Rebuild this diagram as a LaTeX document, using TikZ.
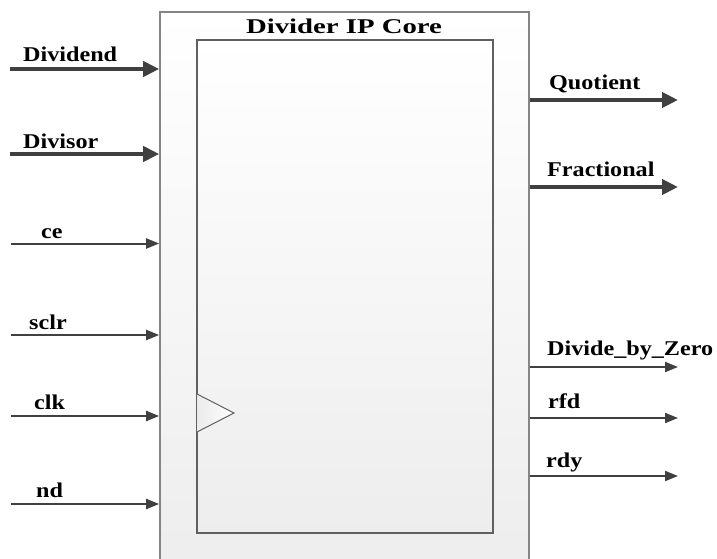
\documentclass[tikz,border=0pt]{standalone}
\usepackage{fontspec}
\setmainfont{Liberation Serif}[FakeStretch=1.15]
\usetikzlibrary{arrows.meta}
\definecolor{arr}{HTML}{404040}
\definecolor{outerline}{HTML}{858585}
\definecolor{innerline}{HTML}{606060}
\tikzset{
  lbl/.style={anchor=base west, inner sep=0pt, font=\fontsize{21}{24}\selectfont\bfseries, text=black},
  busarr/.style={draw=arr, line width=4pt, -{Triangle[length=16pt,width=15pt]}},
  sigarr/.style={draw=arr, line width=2pt, -{Triangle[length=13pt,width=10pt]}},
  outerbox/.style={draw=outerline, line width=1.6pt, top color=white, bottom color=black!7, minimum width=369pt, minimum height=563pt, inner sep=0pt},
  innerbox/.style={draw=innerline, line width=1.2pt, top color=white, bottom color=black!7, minimum width=296pt, minimum height=493pt, inner sep=0pt},
}
\begin{document}
\begin{tikzpicture}[x=1pt,y=-1pt]
\useasboundingbox (0,0) rectangle (717,559);
\clip (0,0) rectangle (717,559);
\node[outerbox] (core) at (344.5,293.5) {};
\node[innerbox] (inner) at (345,286.5) {};
\node[lbl, anchor=base, xscale=1.19] (title) at (344,34) {Divider IP Core};
% clock triangle
\draw[draw=innerline, line width=1pt, left color=black!8, right color=white] (197,394) -- (234,413) -- (197,432);
% inputs
\coordinate (inDvd) at (10,69);
\coordinate (inDvs) at (10,154);
\coordinate (inCe) at (11,243.5);
\coordinate (inSclr) at (11,335);
\coordinate (inClk) at (11,416);
\coordinate (inNd) at (11,504);
\draw[busarr] (inDvd) -- (inDvd -| core.west);
\draw[busarr] (inDvs) -- (inDvs -| core.west);
\draw[sigarr] (inCe) -- (inCe -| core.west);
\draw[sigarr] (inSclr) -- (inSclr -| core.west);
\draw[sigarr] (inClk) -- (inClk -| core.west);
\draw[sigarr] (inNd) -- (inNd -| core.west);
\node[lbl] (lDvd) at (23,62) {Dividend};
\node[lbl] (lDvs) at (23,148) {Divisor};
\node[lbl] (lCe) at (41,238) {ce};
\node[lbl] (lSclr) at (29,329) {sclr};
\node[lbl] (lClk) at (34,409) {clk};
\node[lbl] (lNd) at (36,497) {nd};
% outputs
\coordinate (oQ) at (678,100);
\coordinate (oF) at (678,187);
\coordinate (oZ) at (678,367);
\coordinate (oR) at (678,418);
\coordinate (oY) at (678,476);
\draw[busarr] (oQ -| core.east) -- (oQ);
\draw[busarr] (oF -| core.east) -- (oF);
\draw[sigarr] (oZ -| core.east) -- (oZ);
\draw[sigarr] (oR -| core.east) -- (oR);
\draw[sigarr] (oY -| core.east) -- (oY);
\node[lbl] (lQ) at (549,90) {Quotient};
\node[lbl] (lF) at (547,176) {Fractional};
\node[lbl] (lZ) at (547,355) {Divide\_by\_Zero};
\node[lbl] (lR) at (548,408) {rfd};
\node[lbl] (lY) at (546,467) {rdy};
\end{tikzpicture}
\end{document}
